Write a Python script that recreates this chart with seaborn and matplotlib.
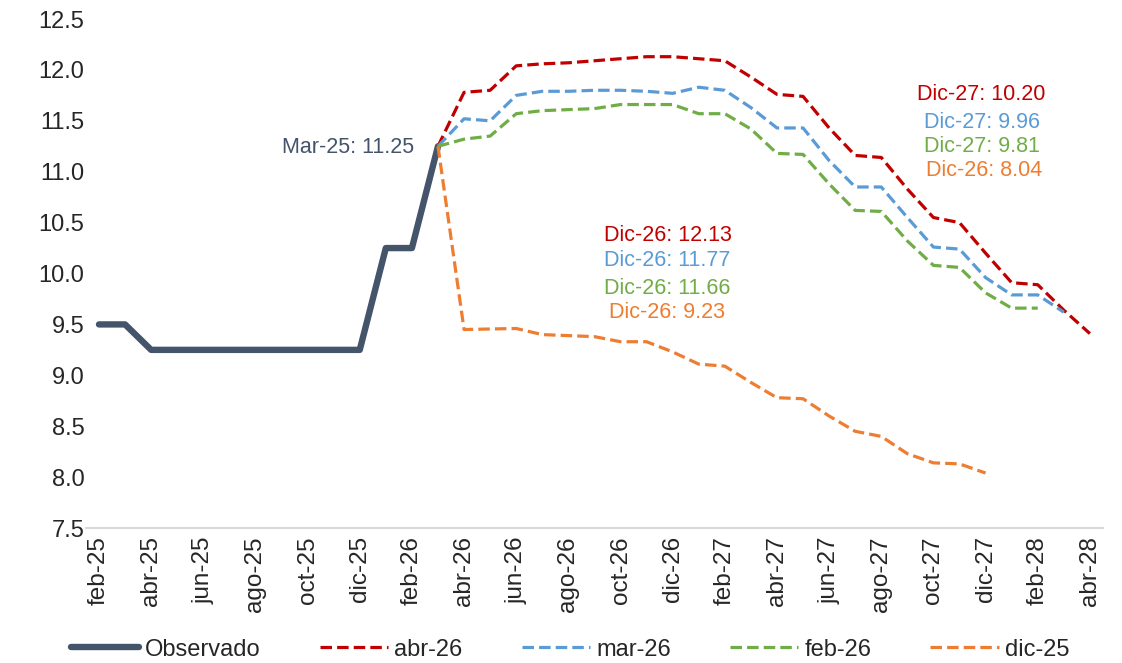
import matplotlib
matplotlib.use('Agg')
import matplotlib.pyplot as plt
import seaborn as sns

meses = ['feb-25', 'mar-25', 'abr-25', 'may-25', 'jun-25', 'jul-25', 'ago-25', 'sep-25',
         'oct-25', 'nov-25', 'dic-25', 'ene-26', 'feb-26', 'mar-26', 'abr-26', 'may-26',
         'jun-26', 'jul-26', 'ago-26', 'sep-26', 'oct-26', 'nov-26', 'dic-26', 'ene-27',
         'feb-27', 'mar-27', 'abr-27', 'may-27', 'jun-27', 'jul-27', 'ago-27', 'sep-27',
         'oct-27', 'nov-27', 'dic-27', 'ene-28', 'feb-28', 'mar-28', 'abr-28']

observado = [9.5, 9.5, 9.25, 9.25, 9.25, 9.25, 9.25, 9.25, 9.25, 9.25, 9.25,
             10.25, 10.25, 11.25]

# pronosticos, todos arrancan en mar-26
abr26 = [11.25, 11.78, 11.80, 12.04, 12.06, 12.07, 12.09, 12.11, 12.13, 12.13,
         12.11, 12.09, 11.93, 11.76, 11.74, 11.43, 11.16, 11.14, 10.83, 10.55,
         10.50, 10.20, 9.91, 9.89, 9.64, 9.41]
mar26 = [11.25, 11.52, 11.50, 11.75, 11.79, 11.79, 11.80, 11.80, 11.79, 11.77,
         11.83, 11.80, 11.63, 11.43, 11.43, 11.11, 10.85, 10.85, 10.55, 10.26,
         10.24, 9.96, 9.79, 9.79, 9.62]
feb26 = [11.25, 11.32, 11.35, 11.57, 11.60, 11.61, 11.62, 11.66, 11.66, 11.66,
         11.57, 11.57, 11.42, 11.18, 11.17, 10.88, 10.62, 10.61, 10.32, 10.08,
         10.06, 9.81, 9.66, 9.66]
dic25 = [11.25, 9.45, 9.455, 9.46, 9.40, 9.39, 9.38, 9.33, 9.33, 9.23,
         9.11, 9.09, 8.93, 8.78, 8.77, 8.60, 8.45, 8.40, 8.23, 8.14, 8.13, 8.04]

inicio = meses.index('mar-26')

sns.set_style('white')
plt.rcParams['font.family'] = ['Liberation Sans', 'DejaVu Sans']

fig = plt.figure(figsize=(11.22, 6.63), dpi=100)
ax = fig.add_axes([0.0766, 0.2036, 0.9064, 0.7677])

sns.lineplot(x=list(range(len(observado))), y=observado, color='#44546A',
             linewidth=4.6, label='Observado', ax=ax)

series = [('abr-26', abr26, '#C00000'), ('mar-26', mar26, '#5B9BD5'),
          ('feb-26', feb26, '#70AD47'), ('dic-25', dic25, '#ED7D31')]
for nombre, vals, col in series:
    sns.lineplot(x=list(range(inicio, inicio + len(vals))), y=vals, color=col,
                 linewidth=2.3, linestyle=(0, (3.6, 1.6)), label=nombre, ax=ax)

ax.set_xlim(-0.5, len(meses) - 0.5)
ax.set_ylim(7.5, 12.5)
ax.set_xticks(range(0, len(meses), 2))
ax.set_xticklabels(meses[::2], rotation=90, fontsize=17.5)
ax.set_yticks([7.5 + 0.5 * i for i in range(11)])
ax.set_yticklabels([f'{7.5 + 0.5 * i:.1f}' for i in range(11)], fontsize=17)
ax.tick_params(axis='x', length=0, pad=6)
ax.tick_params(axis='y', length=0, pad=1)
for s in ['top', 'right', 'left']:
    ax.spines[s].set_visible(False)
ax.spines['bottom'].set_color('#D9D9D9')
ax.spines['bottom'].set_linewidth(1.5)
ax.set_xlabel('')
ax.set_ylabel('')

ax.text(12.1, 11.24, 'Mar-25: 11.25', color='#44546A', fontsize=15.5, ha='right', va='center')

ax.text(21.8, 10.37, 'Dic-26: 12.13', color='#C00000', fontsize=15.5, ha='center', va='center')
ax.text(21.8, 10.13, 'Dic-26: 11.77', color='#5B9BD5', fontsize=15.5, ha='center', va='center')
ax.text(21.8, 9.85, 'Dic-26: 11.66', color='#70AD47', fontsize=15.5, ha='center', va='center')
ax.text(21.8, 9.62, 'Dic-26: 9.23', color='#ED7D31', fontsize=15.5, ha='center', va='center')

ax.text(33.85, 11.76, 'Dic-27: 10.20', color='#C00000', fontsize=15.5, ha='center', va='center')
ax.text(33.85, 11.48, 'Dic-27: 9.96', color='#5B9BD5', fontsize=15.5, ha='center', va='center')
ax.text(33.85, 11.25, 'Dic-27: 9.81', color='#70AD47', fontsize=15.5, ha='center', va='center')
ax.text(33.95, 11.01, 'Dic-26: 8.04', color='#ED7D31', fontsize=15.5, ha='center', va='center')

handles, labels = ax.get_legend_handles_labels()
ax.get_legend().remove()
fig.legend(handles, labels, loc='center', bbox_to_anchor=(0.508, 0.02), ncol=5,
           fontsize=17, frameon=False, handlelength=2.9, columnspacing=2.5,
           handletextpad=0.25)

fig.savefig('out.png', dpi=100)
